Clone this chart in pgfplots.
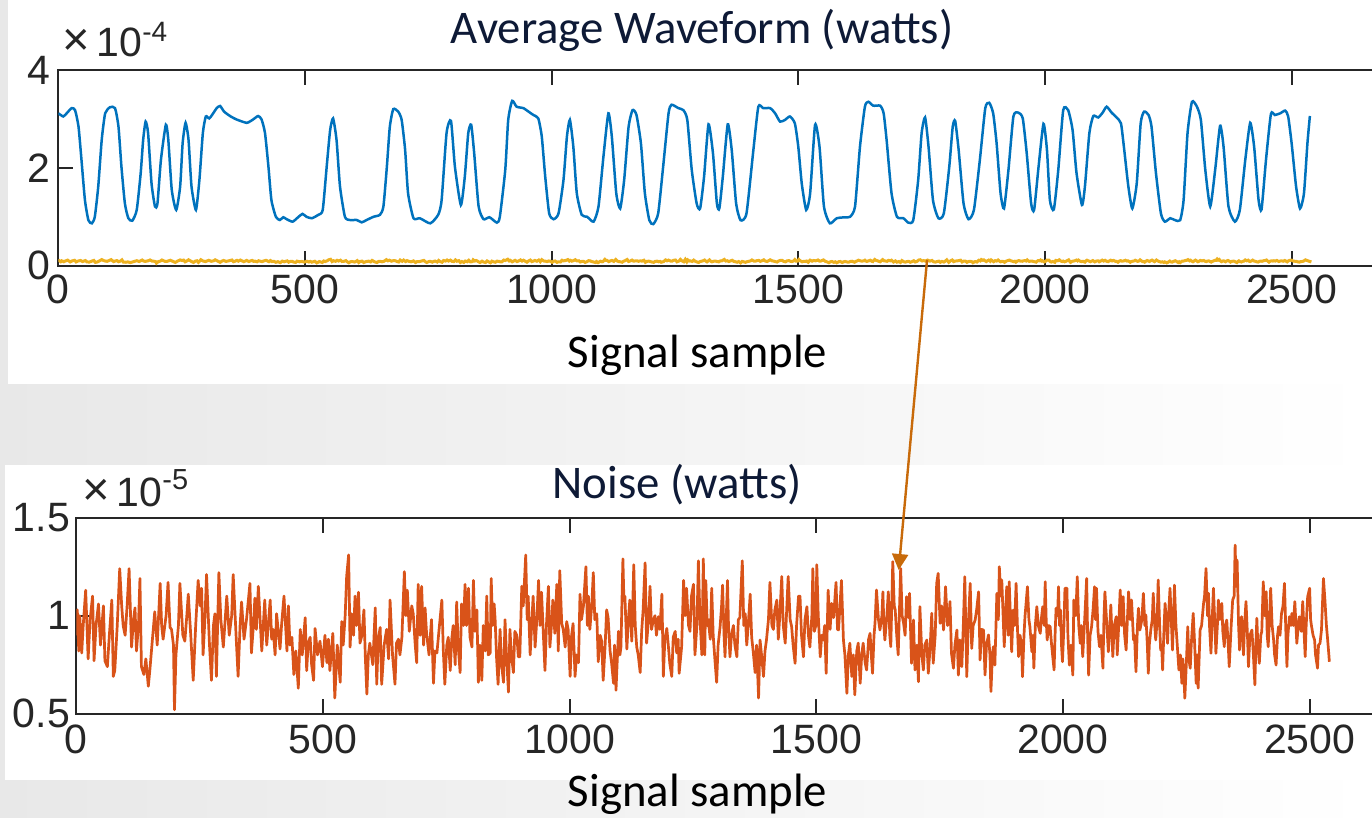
\documentclass[border=0pt]{standalone}
\usepackage{fontspec}
\setmainfont{Liberation Sans}
\newfontfamily\calib{Carlito}
\usepackage{pgfplots}
\pgfplotsset{compat=1.18}
\usepackage{pgfplotstable}
\usetikzlibrary{arrows.meta}
\definecolor{mblue}{HTML}{0072BD}
\definecolor{myellow}{HTML}{EDB120}
\definecolor{morange}{HTML}{D95319}
\definecolor{axisc}{HTML}{262626}
\definecolor{navy}{HTML}{0E1A36}
\definecolor{arrowc}{HTML}{C86A0A}
\newcommand\tickfont{\fontsize{20.5}{24}\selectfont}
\newcommand\labfont{\calib\fontsize{23.4}{28}\selectfont}

\pgfplotstableread{
x y
0 3.115
10 3.05
17 3.115
27 3.22
34 3.18
41 2.84
47 2.16
54 1.34
61 0.93
68 0.866
74 1.00
81 1.62
88 2.57
95 3.115
105 3.24
115 3.22
122 2.84
128 2.02
135 1.27
142 0.97
150 0.92
159 1.14
167 1.89
172 2.57
177 2.945
182 2.71
189 1.68
196 1.21
201 1.27
208 2.16
218 2.88
223 2.57
230 1.55
239 1.14
247 1.62
252 2.50
258 2.92
264 2.57
270 1.62
279 1.14
286 1.75
293 2.71
299 3.05
306 3.01
314 3.115
321 3.22
328 3.265
336 3.15
348 3.06
361 2.99
382 2.92
395 2.99
405 3.06
412 2.99
419 2.71
426 2.02
432 1.34
441 1.00
449 0.934
456 0.99
463 0.95
475 0.90
486 0.99
495 1.06
503 1.00
514 0.97
527 1.04
536 1.14
544 2.02
551 2.77
557 3.01
564 2.57
571 1.62
581 1.00
591 0.934
605 0.934
615 0.886
625 0.934
639 1.00
652 1.04
659 1.21
666 2.02
672 2.84
679 3.20
689 3.15
696 2.98
703 2.37
709 1.48
720 0.97
733 0.97
754 0.866
770 1.04
777 1.34
787 2.71
796 2.96
804 2.02
816 1.24
824 1.82
831 2.71
837 2.88
843 2.30
852 1.21
862 0.95
874 0.99
889 0.88
895 1.00
906 1.96
912 2.98
920 3.37
929 3.25
943 3.22
953 3.15
963 3.08
973 3.01
980 2.64
987 1.82
995 1.07
1004 0.95
1014 1.07
1024 1.75
1031 2.64
1037 2.98
1044 2.43
1051 1.48
1061 1.04
1072 1.00
1085 0.90
1095 1.21
1105 2.23
1115 3.115
1122 2.64
1131 1.48
1139 1.17
1147 1.75
1156 2.84
1164 3.18
1172 3.08
1181 2.50
1189 1.48
1198 0.93
1206 0.85
1216 1.07
1226 2.02
1237 3.115
1243 3.29
1257 3.22
1267 3.18
1275 2.98
1284 1.96
1294 1.27
1301 1.17
1309 1.82
1318 2.89
1327 2.30
1335 1.27
1340 1.17
1347 1.82
1357 2.89
1365 2.37
1374 1.27
1383 0.93
1395 1.07
1409 2.37
1419 3.25
1429 3.22
1443 3.22
1453 3.115
1463 2.945
1473 2.98
1483 3.05
1493 2.91
1500 2.43
1507 1.68
1516 1.14
1524 1.48
1534 2.88
1543 2.43
1552 1.21
1564 0.866
1578 0.97
1595 0.99
1605 1.00
1615 1.21
1625 2.43
1635 3.25
1642 3.35
1652 3.27
1666 3.27
1673 3.115
1679 2.57
1689 1.48
1700 1.00
1713 0.97
1723 0.88
1733 0.93
1743 1.75
1750 2.71
1757 3.03
1764 2.43
1773 1.34
1784 0.97
1795 1.07
1806 2.02
1813 2.84
1818 2.96
1825 2.37
1835 1.27
1845 0.95
1856 1.14
1868 2.16
1879 3.22
1887 3.33
1895 3.115
1902 2.50
1910 1.48
1917 1.17
1926 1.96
1936 3.05
1946 3.13
1955 3.01
1963 2.30
1972 1.27
1978 1.14
1987 2.02
1997 2.90
2004 2.37
2010 1.34
2018 1.15
2027 1.96
2037 3.18
2047 3.18
2056 2.77
2064 1.89
2075 1.24
2081 1.62
2090 2.71
2098 3.06
2108 3.03
2117 3.13
2125 3.25
2135 3.13
2145 3.03
2154 2.91
2160 2.43
2169 1.62
2177 1.17
2186 1.68
2194 2.91
2201 3.15
2210 3.08
2216 2.84
2225 1.89
2235 1.07
2243 0.90
2254 0.97
2264 0.93
2274 0.93
2281 1.34
2289 2.71
2298 3.35
2308 3.25
2316 2.98
2325 1.96
2335 1.21
2345 1.96
2355 2.86
2362 2.43
2372 1.21
2385 0.90
2395 1.14
2406 2.16
2416 2.92
2424 2.43
2433 1.34
2439 1.15
2448 2.16
2458 3.10
2466 3.08
2477 3.115
2487 3.17
2493 3.05
2500 2.50
2509 1.62
2517 1.17
2525 1.48
2532 2.50
2537 3.06
}\wave

\pgfplotstableread{
x y
0 0.90
2 1.03
5 0.82
7 1.00
11 0.81
14 0.95
19 1.13
24 0.78
28 0.98
33 1.10
36 0.77
40 0.95
45 1.06
49 0.85
55 1.05
58 0.77
63 0.74
67 0.90
72 1.08
75 0.69
78 0.72
83 0.95
88 1.24
92 1.05
95 0.95
99 0.90
103 1.05
107 1.24
112 0.84
116 0.98
119 1.04
122 0.82
126 0.95
129 1.19
132 0.74
137 0.70
141 0.78
146 0.64
149 0.72
155 0.90
159 1.02
164 0.85
170 1.165
173 0.95
176 0.88
182 1.00
186 1.17
190 0.94
193 0.93
197 0.85
199 0.52
202 0.80
207 0.95
210 1.165
216 0.90
220 0.87
224 1.00
227 1.11
232 0.90
237 0.67
242 0.95
247 1.18
251 1.05
254 1.14
257 0.80
261 1.00
264 1.21
270 0.85
274 0.67
278 0.95
281 1.01
284 0.69
289 1.22
293 0.98
298 0.84
305 1.10
310 0.90
315 1.00
318 1.21
325 0.84
328 0.69
332 0.95
335 1.07
340 0.88
345 0.98
352 1.165
355 0.81
359 0.95
362 1.09
365 0.93
369 1.15
376 0.82
379 0.95
382 1.08
386 0.85
393 1.08
396 0.88
399 0.93
403 0.80
406 1.01
413 0.83
416 0.95
421 1.10
427 0.82
430 1.05
433 0.85
437 0.89
441 0.70
445 0.82
450 0.63
454 0.93
458 0.80
464 0.99
467 0.72
470 0.86
474 0.89
477 0.75
481 0.67
484 0.935
489 0.80
494 0.87
499 0.74
504 0.90
508 0.76
511 0.88
514 0.72
520 0.91
524 0.58
529 0.85
535 0.66
538 0.97
541 0.85
545 1.00
548 1.20
552 1.31
555 0.84
558 1.01
562 0.90
565 1.10
568 0.95
572 1.12
575 0.86
579 0.90
583 1.03
586 0.78
589 0.60
592 0.80
595 0.86
601 0.75
606 1.04
609 0.65
612 0.88
616 0.94
619 0.65
624 0.85
629 0.93
633 0.78
636 1.08
641 0.80
646 0.65
649 0.86
653 0.88
656 0.80
660 0.89
665 1.225
668 1.00
671 1.13
675 0.92
680 1.05
683 1.01
687 0.85
690 0.76
693 1.16
697 0.90
700 1.15
704 0.85
707 1.04
710 0.91
715 0.80
720 0.98
724 0.655
727 0.82
731 0.81
735 0.92
741 1.08
744 0.82
747 0.65
751 0.85
754 0.89
758 0.72
761 0.88
764 0.95
768 0.75
771 1.07
774 0.85
778 0.71
781 1.06
785 0.95
788 1.16
791 0.95
795 1.14
798 0.89
802 0.84
805 1.18
808 0.92
812 1.03
815 0.66
818 0.85
822 0.67
825 0.95
829 0.82
832 1.10
835 0.80
839 0.81
841 1.19
844 0.95
847 1.06
849 0.98
852 0.78
855 0.65
859 0.93
862 0.75
866 0.66
869 0.98
872 0.80
876 0.61
879 0.93
882 0.80
886 0.71
889 0.92
893 0.90
896 0.79
899 0.79
903 1.15
906 1.05
911 1.31
914 0.98
916 1.10
920 0.80
923 0.95
926 1.10
930 0.84
933 0.96
937 1.18
940 0.95
943 1.12
947 0.89
950 0.72
953 0.95
957 1.15
960 0.84
964 0.98
966 1.08
970 0.91
974 1.16
977 0.82
980 1.23
984 0.96
987 0.93
991 0.84
994 0.97
997 0.93
1001 0.69
1004 0.90
1007 0.96
1011 0.69
1014 0.80
1018 0.76
1021 1.11
1024 0.98
1028 1.05
1033 1.25
1036 0.95
1038 1.10
1041 0.93
1045 1.06
1048 1.22
1051 0.98
1055 1.01
1058 0.765
1062 0.90
1065 0.87
1068 0.67
1072 0.85
1075 1.03
1078 0.99
1082 0.82
1085 0.76
1089 0.655
1091 0.85
1094 0.62
1097 0.80
1099 0.92
1102 0.80
1104 0.84
1108 1.29
1110 1.08
1112 1.10
1116 0.83
1119 0.98
1122 1.08
1126 0.87
1130 1.26
1133 0.95
1136 0.84
1139 0.80
1143 0.71
1146 0.92
1149 1.03
1153 1.27
1156 0.86
1160 0.98
1163 1.15
1166 0.93
1170 0.98
1173 1.00
1176 0.90
1180 0.995
1183 0.93
1187 1.11
1190 0.69
1193 0.88
1197 0.935
1200 0.85
1203 0.757
1207 0.69
1210 0.89
1214 0.92
1217 0.81
1220 0.88
1222 0.706
1227 0.84
1231 1.18
1234 1.00
1237 1.14
1241 0.95
1244 0.92
1247 1.10
1251 1.16
1254 0.80
1258 0.95
1261 1.28
1264 1.00
1268 0.80
1271 1.29
1274 0.80
1276 1.18
1279 0.95
1281 0.98
1285 0.88
1288 1.14
1291 0.90
1295 0.757
1298 0.66
1301 0.85
1305 0.944
1308 1.05
1310 1.156
1313 0.90
1315 0.79
1320 1.18
1322 0.95
1325 0.79
1328 0.90
1332 0.95
1335 0.85
1339 0.79
1342 0.98
1345 0.99
1350 1.28
1353 0.95
1356 1.01
1359 0.85
1362 0.95
1366 1.11
1369 0.89
1372 0.82
1376 0.71
1379 0.85
1383 0.58
1386 0.876
1389 0.80
1393 0.69
1396 0.82
1399 0.876
1403 0.98
1406 1.17
1410 0.95
1413 0.93
1416 1.03
1420 1.08
1423 0.88
1426 1.00
1430 1.20
1433 0.95
1437 0.86
1440 1.03
1443 1.20
1447 0.98
1450 0.944
1453 0.85
1457 0.757
1460 0.95
1464 1.10
1467 1.10
1470 0.90
1474 0.79
1477 0.98
1481 1.046
1484 0.90
1487 0.84
1491 1.00
1493 1.24
1496 0.92
1499 0.95
1501 1.26
1504 1.00
1508 0.79
1511 0.90
1514 0.876
1517 0.95
1520 0.706
1524 1.13
1528 0.93
1531 1.063
1535 0.99
1540 1.17
1543 0.93
1545 0.927
1548 1.05
1551 1.18
1555 0.876
1558 0.80
1562 0.604
1565 0.80
1568 0.86
1572 0.69
1575 0.80
1578 0.596
1582 0.82
1585 0.86
1589 0.655
1592 0.80
1595 0.86
1599 0.76
1602 0.723
1606 0.88
1609 0.91
1612 0.78
1614 0.706
1617 0.90
1619 0.961
1622 1.131
1626 0.98
1629 0.927
1633 1.00
1635 1.122
1637 0.95
1639 0.876
1643 1.00
1646 1.122
1649 0.90
1651 0.842
1655 1.276
1658 1.05
1660 1.029
1663 0.90
1666 0.80
1671 1.241
1674 1.00
1677 0.961
1680 0.90
1683 1.097
1687 0.99
1689 1.114
1693 0.757
1697 0.978
1700 0.723
1704 0.85
1707 0.663
1710 1.046
1714 0.80
1717 0.723
1720 0.85
1724 0.876
1727 0.706
1731 0.85
1734 1.012
1737 0.757
1741 0.90
1744 1.165
1747 1.216
1751 0.961
1754 1.05
1758 0.927
1762 1.148
1766 0.95
1768 0.961
1771 1.072
1774 0.808
1778 0.732
1781 0.85
1785 0.927
1788 0.697
1791 0.876
1795 0.74
1798 0.95
1801 1.199
1805 0.689
1808 0.95
1812 1.165
1815 0.833
1818 0.95
1822 0.978
1825 1.03
1829 1.122
1832 0.774
1835 0.93
1839 0.927
1842 0.697
1845 0.85
1849 0.902
1852 0.80
1854 0.613
1857 0.80
1859 0.842
1862 0.748
1866 1.114
1869 0.98
1871 1.25
1874 1.10
1876 1.182
1881 0.842
1883 0.98
1886 1.148
1889 0.90
1891 1.173
1896 0.816
1899 1.029
1902 0.95
1905 1.165
1908 0.92
1910 0.791
1913 0.90
1916 0.85
1918 0.689
1921 0.90
1923 0.995
1928 1.148
1931 0.98
1933 0.944
1937 0.816
1939 0.90
1941 0.732
1944 0.95
1947 1.046
1950 0.95
1954 0.91
1956 0.98
1959 1.046
1962 0.95
1964 1.173
1966 0.98
1968 0.876
1971 0.95
1974 0.944
1977 0.85
1982 0.723
1984 0.90
1986 1.038
1989 1.00
1991 1.148
1993 0.95
1995 1.029
1997 0.85
1999 0.765
2002 0.95
2004 1.14
2008 1.14
2010 0.90
2013 0.748
2016 0.85
2020 0.697
2022 1.08
2026 1.00
2029 1.199
2032 0.95
2035 0.859
2037 0.95
2040 0.791
2044 0.98
2048 1.19
2050 0.90
2052 0.697
2055 0.90
2058 0.944
2061 1.03
2064 1.148
2066 0.98
2068 1.14
2071 0.92
2074 0.842
2077 0.90
2081 0.732
2083 0.98
2085 1.122
2089 0.95
2092 0.816
2095 0.95
2097 1.055
2099 0.92
2101 0.791
2104 0.95
2108 0.995
2110 0.80
2113 0.95
2116 1.131
2119 0.95
2122 1.097
2125 0.90
2128 0.825
2133 1.122
2136 0.98
2139 1.08
2143 0.876
2145 0.90
2148 0.714
2151 0.95
2153 1.038
2156 0.927
2160 0.98
2163 1.114
2166 0.95
2168 1.004
2171 0.85
2173 0.706
2175 0.85
2178 0.927
2181 0.98
2183 1.114
2186 0.95
2188 0.876
2191 0.98
2193 1.182
2196 0.95
2198 0.825
2200 0.85
2202 0.723
2205 0.95
2207 1.063
2210 0.95
2212 0.859
2214 1.00
2217 1.14
2220 0.95
2222 0.825
2224 0.98
2226 1.156
2229 0.95
2231 0.876
2233 0.80
2235 0.723
2238 0.80
2241 0.655
2243 0.78
2245 0.70
2247 0.579
2250 0.75
2253 0.944
2255 0.78
2258 0.732
2260 0.85
2264 1.012
2267 0.85
2270 0.655
2272 0.80
2274 0.63
2278 0.927
2281 0.95
2285 1.063
2287 1.10
2290 1.241
2293 1.00
2295 1.114
2297 0.95
2300 0.808
2302 0.95
2305 1.14
2308 0.95
2310 0.808
2313 0.95
2315 1.08
2318 0.98
2322 1.063
2324 0.92
2327 0.842
2329 0.95
2332 0.978
2335 0.85
2337 0.74
2341 0.95
2344 1.08
2347 1.10
2349 1.36
2351 1.15
2353 1.284
2356 0.95
2358 0.825
2360 0.95
2362 0.995
2366 0.80
2368 0.95
2371 1.072
2374 0.90
2376 0.74
2379 0.90
2383 0.927
2386 0.80
2389 0.647
2391 0.85
2393 0.987
2395 0.85
2398 0.757
2401 0.90
2403 0.919
2406 1.173
2409 1.00
2412 1.122
2414 0.90
2416 0.842
2419 1.00
2421 1.14
2424 0.95
2427 0.876
2429 0.80
2432 0.748
2435 0.90
2437 0.944
2440 0.90
2443 1.012
2446 1.05
2449 1.165
2452 0.90
2454 0.74
2456 0.90
2459 0.995
2462 0.95
2464 1.012
2467 0.95
2470 1.072
2474 0.859
2477 0.95
2479 0.995
2483 0.92
2486 1.072
2489 0.90
2491 0.791
2493 0.95
2496 1.097
2500 1.14
2502 0.98
2504 0.944
2507 0.90
2510 0.876
2512 0.80
2516 0.732
2518 0.85
2521 0.859
2524 0.927
2528 1.19
2531 1.08
2534 0.95
2536 0.893
2539 0.80
2540 0.765
}\noise

\pgfplotsset{
  matstyle/.style={
    scale only axis, anchor=south west,
    width=740pt, xmin=0, xmax=3000,
    axis line style={line width=1pt, draw=axisc},
    every tick/.style={line width=1pt, draw=axisc},
    major tick length=7.5pt, tick align=inside,
    ticklabel style={font=\tickfont, text=axisc},
    xtick={0,500,1000,1500,2000,2500},
    xticklabels={0,500,1000,1500,2000,2500},
    scaled ticks=false,
    /pgf/number format/assume math mode=true,
  }
}

\begin{document}
\begin{tikzpicture}
\shade[left color=gray!18, right color=white] (0,0) rectangle (686pt,-409pt);
\fill[white] (4pt,0) rectangle (686pt,-192pt);
\fill[white] (2.5pt,-232.5pt) rectangle (686pt,-390pt);

\begin{axis}[matstyle, at={(29.15pt,-132.85pt)}, height=97.85pt,
  ymin=0, ymax=4, ytick={0,2,4}, yticklabels={0,2,4},
  yticklabel style={inner xsep=4pt},
  xticklabel style={yshift=-1.3pt}]
\addplot[mblue, line width=1.25pt, smooth, tension=0.35] table[x=x,y=y] {\wave};
\addplot[myellow, line width=1.5pt] table[x=x, y expr=\thisrow{y}/10] {\noise};
\coordinate (A) at (axis cs:1761,0.12);
\end{axis}

\begin{axis}[matstyle, at={(38.15pt,-356.85pt)}, height=98pt,
  ymin=0.5, ymax=1.5, ytick={0.5,1,1.5}, yticklabels={0.5,1,1.5},
  yticklabel style={inner xsep=3pt},
  xticklabel style={yshift=-2pt}]
\addplot[morange, line width=1.35pt, line join=round] table[x=x,y=y] {\noise};
\coordinate (B) at (axis cs:1667,1.233);
\end{axis}

\node[anchor=base west, inner sep=0, text=axisc, font=\tickfont] at (31pt,-28.5pt)
  {\raisebox{0.5pt}{\scalebox{1.15}{×}}\,10\raisebox{7.5pt}{\fontsize{14}{16}\selectfont -4}};
\node[anchor=base west, inner sep=0, text=axisc, font=\tickfont] at (41pt,-253pt)
  {\raisebox{0.5pt}{\scalebox{1.15}{×}}\,10\raisebox{8.5pt}{\fontsize{14.5}{16}\selectfont -5}};

\node[anchor=base, inner sep=0, text=navy, font=\labfont] at (351pt,-22pt) {Average Waveform (watts)};
\node[anchor=base, inner sep=0, text=black, font=\labfont] at (348.75pt,-184pt) {Signal sample};
\node[anchor=base, inner sep=0, text=navy, font=\labfont] at (338.5pt,-249pt) {Noise (watts)};
\node[anchor=base, inner sep=0, text=black, font=\labfont] at (348.75pt,-403pt) {Signal sample};

\draw[arrowc, line width=1.2pt, -{Triangle[width=8pt,length=8pt]}] (A) -- (B);

\pgfresetboundingbox
\useasboundingbox (0,0) rectangle (686pt,-409pt);
\end{tikzpicture}
\end{document}
